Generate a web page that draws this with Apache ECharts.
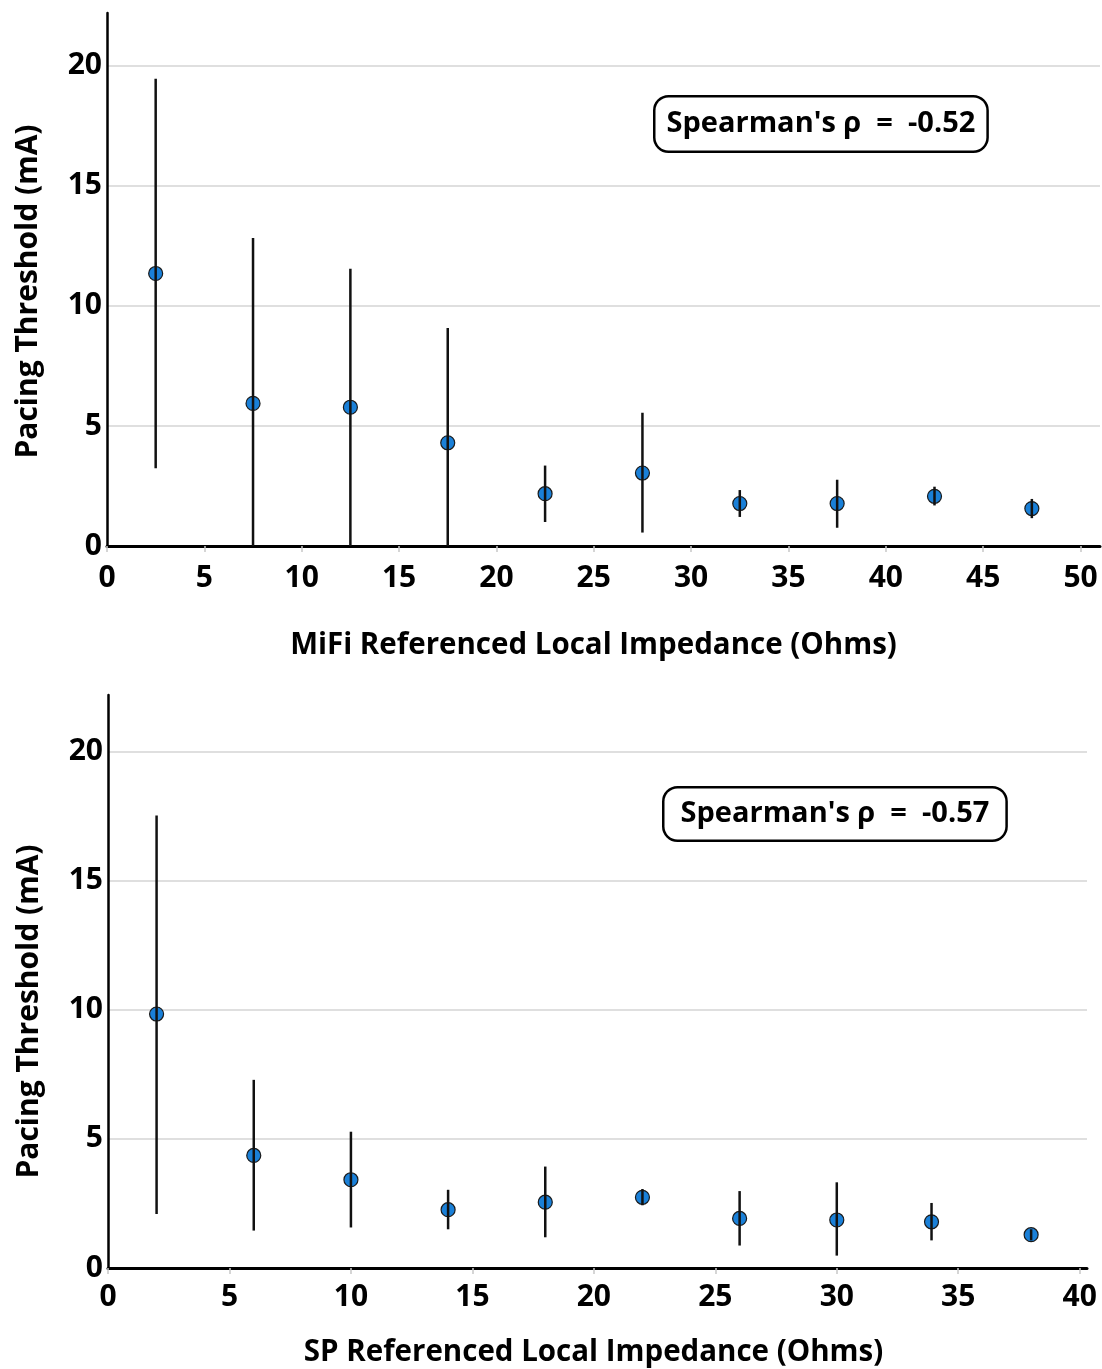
<!DOCTYPE html>
<html>
<head>
<meta charset="utf-8">
<script src="https://cdn.jsdelivr.net/npm/echarts@6/dist/echarts.min.js"></script>
<style>
  html, body { margin: 0; padding: 0; background: #fff; }
  #chart { width: 1102px; height: 1369px; }
</style>
</head>
<body>
<div id="chart"></div>
<script>
// ---- Data ----
const xTicksTop = [0, 5, 10, 15, 20, 25, 30, 35, 40, 45, 50];
const xTicksBottom = [0, 5, 10, 15, 20, 25, 30, 35, 40];
const yTicks = [0, 5, 10, 15, 20];

const mifiX    = [2.5, 7.5, 12.5, 17.5, 22.5, 27.5, 32.5, 37.5, 42.5, 47.5];
const mifiMean = [11.35, 5.94, 5.78, 4.30, 2.18, 3.04, 1.77, 1.77, 2.07, 1.56];
const mifiLow  = [3.24, 0, 0, 0, 1.00, 0.56, 1.21, 0.76, 1.69, 1.16];
const mifiHigh = [19.46, 12.83, 11.55, 9.08, 3.35, 5.55, 2.33, 2.76, 2.47, 1.96];

const spX    = [2, 6, 10, 14, 18, 22, 26, 30, 33.9, 38];
const spMean = [9.84, 4.36, 3.42, 2.26, 2.55, 2.74, 1.92, 1.86, 1.79, 1.29];
const spLow  = [2.09, 1.45, 1.57, 1.50, 1.19, 2.43, 0.87, 0.48, 1.07, 1.07];
const spHigh = [17.53, 7.29, 5.28, 3.03, 3.93, 3.06, 2.98, 3.32, 2.52, 1.50];

const rhoTop = "-0.52";
const rhoBottom = "-0.57";
const xTitleTop = "MiFi Referenced Local Impedance (Ohms)";
const xTitleBottom = "SP Referenced Local Impedance (Ohms)";
const yTitle = "Pacing Threshold (mA)";

// ---- Chart ----
const FONT = "'Open Sans', 'Noto Sans', sans-serif";
const chart = echarts.init(document.getElementById('chart'), null, { renderer: 'canvas' });

function xAxisCfg(idx, max, ticks, name, gap, labelMargin, shiftLeft) {
  return {
    type: 'value', gridIndex: idx, min: 0, max: max,
    name: name, nameLocation: 'middle', nameGap: gap,
    nameTextStyle: { fontFamily: FONT, fontWeight: 'bold', fontSize: 29.5, color: '#000', padding: [0, shiftLeft * 2, 0, 0] },
    axisLine: { show: true, onZero: false, lineStyle: { color: '#000', width: 3 } },
    axisTick: { show: true, customValues: ticks, length: 6, lineStyle: { color: '#c8c8c8', width: 1.5 } },
    axisLabel: { customValues: ticks, fontFamily: FONT, fontWeight: 'bold', fontSize: 30, color: '#000', margin: labelMargin },
    splitLine: { show: false }
  };
}
function yAxisCfg(idx, shiftDown) {
  return {
    type: 'value', gridIndex: idx, min: 0, max: 22.2, interval: 5,
    name: yTitle, nameLocation: 'middle', nameGap: 64, nameRotate: 90,
    nameTextStyle: { fontFamily: FONT, fontWeight: 'bold', fontSize: 30, color: '#000', padding: [0, shiftDown * 2, 0, 0] },
    axisLine: { show: true, onZero: false, lineStyle: { color: '#000', width: 2.5 } },
    axisTick: { show: false },
    axisLabel: { customValues: yTicks, fontFamily: FONT, fontWeight: 'bold', fontSize: 30, color: '#000', margin: 5 },
    splitLine: { show: true, showMaxLine: false, showMinLine: false, lineStyle: { color: '#d4d4d4', width: 1.5 } }
  };
}

function errorSeries(idx, xs, lows, highs) {
  return {
    type: 'custom', xAxisIndex: idx, yAxisIndex: idx, z: 5,
    data: xs.map((x, i) => [x, lows[i], highs[i]]),
    renderItem: function (params, api) {
      const p1 = api.coord([api.value(0), api.value(1)]);
      const p2 = api.coord([api.value(0), api.value(2)]);
      return {
        type: 'line',
        shape: { x1: p1[0], y1: p1[1], x2: p2[0], y2: p2[1] },
        style: { stroke: '#111', lineWidth: 2.5 }
      };
    },
    silent: true
  };
}
function pointSeries(idx, xs, ys) {
  return {
    type: 'scatter', xAxisIndex: idx, yAxisIndex: idx, z: 3,
    data: xs.map((x, i) => [x, ys[i]]),
    symbol: 'circle', symbolSize: 14,
    itemStyle: { color: '#1a80d8', borderColor: '#1a1a1a', borderWidth: 1.2, opacity: 1 },
    silent: true
  };
}

const option = {
  backgroundColor: '#fff',
  animation: false,
  grid: [
    { left: 107, top: 13, width: 993, height: 533 },
    { left: 108, top: 695, width: 979, height: 573 }
  ],
  xAxis: [
    xAxisCfg(0, 51, xTicksTop, xTitleTop, 85, 17, 10),
    xAxisCfg(1, 40.3, xTicksBottom, xTitleBottom, 70, 14, 4)
  ],
  yAxis: [yAxisCfg(0, 12), yAxisCfg(1, 30)],
  series: [
    pointSeries(0, mifiX, mifiMean),
    errorSeries(0, mifiX, mifiLow, mifiHigh),
    pointSeries(1, spX, spMean),
    errorSeries(1, spX, spLow, spHigh)
  ],
  graphic: [
    {
      type: 'text', left: 653, top: 95, z: 10,
      style: {
        text: "Spearman's \u03C1  =  " + rhoTop,
        font: "bold 29px " + FONT, fill: '#000',
        backgroundColor: '#fff', borderColor: '#000', borderWidth: 2.5, borderRadius: 13,
        padding: [12, 11, 12, 11]
      }
    },
    {
      type: 'text', left: 662, top: 786, z: 10,
      style: {
        text: "Spearman's \u03C1  =  " + rhoBottom,
        font: "bold 29px " + FONT, fill: '#000',
        backgroundColor: '#fff', borderColor: '#000', borderWidth: 2.5, borderRadius: 13,
        padding: [11, 16, 11, 16]
      }
    }
  ]
};
chart.setOption(option);
</script>
</body>
</html>
